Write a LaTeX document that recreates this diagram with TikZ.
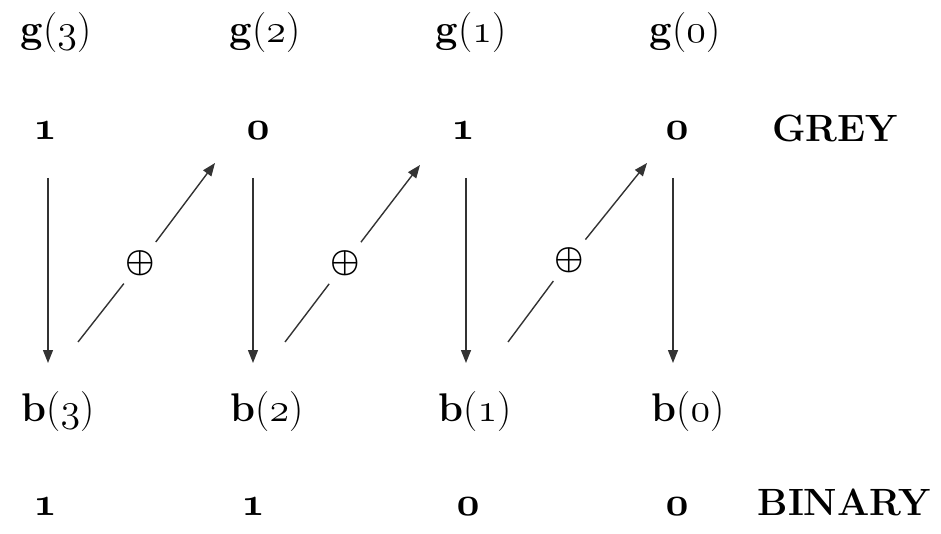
\RequirePackage{fix-cm}
\documentclass[tikz,border=0pt]{standalone}
\usetikzlibrary{arrows.meta}
\newcommand\osr[1]{{\usefont{OML}{cmm}{m}{it}#1}}
\newcommand\osb[1]{{\usefont{OML}{cmm}{b}{it}#1}}
\newcommand\lab[2]{\textbf{#1}(\osr{#2})}
\begin{document}
\begin{tikzpicture}[x=1pt,y=-1pt,
  lbl/.style={font=\fontsize{40}{48}\selectfont, inner sep=0pt},
  dig/.style={font=\fontsize{40}{48}\selectfont\bfseries, inner sep=0pt},
  word/.style={font=\fontsize{38}{44}\selectfont\bfseries, inner sep=0pt},
  arr/.style={draw=black!80, line width=1.4pt, -{Triangle[length=13pt,width=10pt]}},
  seg/.style={draw=black!80, line width=1.4pt},
  xo/.style={circle, inner sep=0pt, minimum size=52pt, font=\fontsize{33}{33}\selectfont\boldmath}
]
\useasboundingbox (0,0) rectangle (941,534);
% top labels
\node[lbl] (g3) at (56,33) {\lab{g}{3}};
\node[lbl] (g2) at (265,33) {\lab{g}{2}};
\node[lbl] (g1) at (471,33) {\lab{g}{1}};
\node[lbl] (g0) at (685,33) {\lab{g}{0}};
% grey digits
\node[dig] (gd3) at (45,131) {\osb{1}};
\node[dig] (gd2) at (258,131) {\osb{0}};
\node[dig] (gd1) at (463,131) {\osb{1}};
\node[dig] (gd0) at (677,131) {\osb{0}};
\node[word] (grey) at (835,128) {GREY};
% bottom labels
\node[lbl] (b3) at (58,412) {\lab{b}{3}};
\node[lbl] (b2) at (267,412) {\lab{b}{2}};
\node[lbl] (b1) at (475,412) {\lab{b}{1}};
\node[lbl] (b0) at (688,412) {\lab{b}{0}};
% binary digits
\node[dig] (bd3) at (45,507) {\osb{1}};
\node[dig] (bd2) at (253,507) {\osb{1}};
\node[dig] (bd1) at (468,507) {\osb{0}};
\node[dig] (bd0) at (677,507) {\osb{0}};
\node[word] (binary) at (844,502) {BINARY};
% vertical arrow ends
\coordinate (v3t) at (48,178);  \coordinate (v3b) at (48,363);
\coordinate (v2t) at (253,178); \coordinate (v2b) at (253,363);
\coordinate (v1t) at (466,178); \coordinate (v1b) at (466,363);
\coordinate (v0t) at (673,178); \coordinate (v0b) at (673,363);
\draw[arr] (v3t) -- (v3b);
\draw[arr] (v2t) -- (v2b);
\draw[arr] (v1t) -- (v1b);
\draw[arr] (v0t) -- (v0b);
% diagonal XOR arrows
\coordinate (d1s) at (78,342);  \coordinate (d1e) at (215,163);
\coordinate (d2s) at (285,342); \coordinate (d2e) at (420,165);
\coordinate (d3s) at (508,342); \coordinate (d3e) at (647,163);
\node[xo] (x1) at (140,263) {$\oplus$};
\node[xo] (x2) at (345,263) {$\oplus$};
\node[xo] (x3) at (569,260) {$\oplus$};
\draw[seg] (d1s) -- (x1);
\draw[arr] (x1) -- (d1e);
\draw[seg] (d2s) -- (x2);
\draw[arr] (x2) -- (d2e);
\draw[seg] (d3s) -- (x3);
\draw[arr] (x3) -- (d3e);
\end{tikzpicture}
\end{document}
